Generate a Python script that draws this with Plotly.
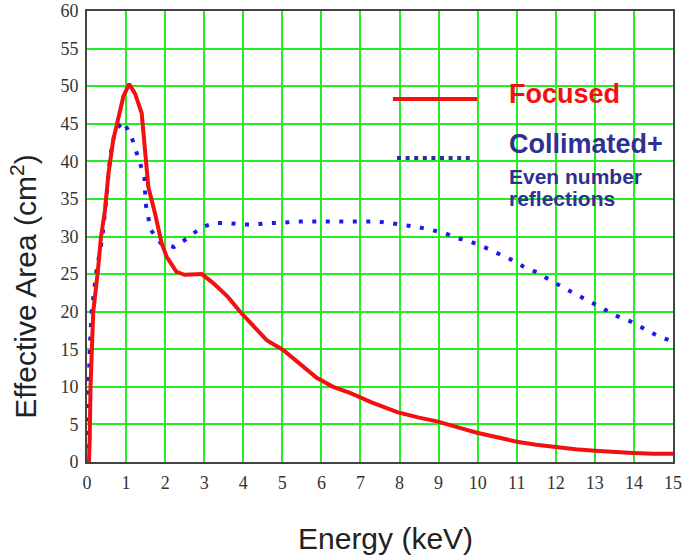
import plotly.graph_objects as go

# Focused (red solid)
focused_e = [0.05, 0.07, 0.09, 0.12, 0.16, 0.27, 0.36, 0.46, 0.55, 0.67, 0.84, 0.93, 1.08, 1.23, 1.40, 1.48, 1.57, 1.74, 1.91, 2.04, 2.29, 2.5, 2.94, 3.23, 3.6, 3.92, 4.3, 4.6, 5.02, 5.5, 5.88, 6.3, 6.73, 7.3, 7.96, 8.5, 8.96, 9.5, 9.98, 10.5, 11.0, 11.5, 11.98, 12.5, 13.0, 13.5, 13.98, 14.5, 15.0]
focused_a = [0.0, 3.0, 10.0, 15.0, 20.0, 25.0, 30.0, 33.5, 38.4, 42.8, 46.4, 48.6, 50.3, 49.0, 46.4, 41.5, 36.6, 33.1, 29.1, 27.3, 25.3, 24.9, 25.0, 23.8, 22.0, 20.0, 17.8, 16.2, 14.9, 12.8, 11.2, 10.0, 9.2, 7.9, 6.6, 5.9, 5.4, 4.6, 3.9, 3.3, 2.7, 2.3, 2.0, 1.7, 1.5, 1.3, 1.2, 1.1, 1.1]

# Collimated + even number reflections (blue dotted)
coll_e = [0.0, 0.02, 0.03, 0.07, 0.12, 0.23, 0.33, 0.39, 0.5, 0.59, 0.72, 0.93, 1.13, 1.25, 1.36, 1.47, 1.5, 1.57, 1.63, 1.89, 2.23, 2.58, 2.92, 3.26, 3.6, 3.94, 4.29, 4.65, 5.0, 5.32, 5.62, 5.98, 6.35, 6.7, 7.05, 7.4, 7.74, 8.08, 8.42, 8.78, 9.13, 9.47, 9.82, 10.16, 10.48, 10.83, 11.17, 11.53, 11.85, 12.19, 12.55, 12.89, 13.23, 13.57, 13.91, 14.26, 14.6, 15.0]
coll_a = [0.0, 5.0, 10.0, 15.0, 20.0, 25.0, 28.0, 29.7, 35.3, 40.6, 44.1, 45.3, 43.4, 41.6, 39.7, 37.9, 34.4, 32.6, 30.9, 29.1, 28.6, 29.8, 31.2, 31.8, 31.8, 31.6, 31.6, 31.8, 31.8, 32.0, 32.0, 32.1, 32.1, 32.1, 32.1, 32.0, 31.8, 31.6, 31.3, 30.9, 30.5, 29.8, 29.3, 28.6, 27.8, 27.0, 26.0, 25.2, 24.2, 23.2, 22.2, 21.3, 20.3, 19.4, 18.7, 17.8, 16.8, 16.0]

x_ticks = list(range(0, 16))
y_ticks = list(range(0, 61, 5))

fig = go.Figure()
fig.add_trace(go.Scatter(x=coll_e, y=coll_a, mode="lines",
                         line=dict(color="#1a1aee", width=4, dash="4px,9.5px"),
                         showlegend=False, hoverinfo="skip"))
fig.add_trace(go.Scatter(x=focused_e, y=focused_a, mode="lines",
                         line=dict(color="#f21010", width=4),
                         showlegend=False, hoverinfo="skip"))

tickfont = dict(family="Liberation Serif", size=18, color="#333333")
fig.update_xaxes(range=[0, 15], tickvals=x_ticks, ticktext=[str(v) for v in x_ticks],
                 showgrid=True, gridcolor="#22ee22", gridwidth=2, automargin=False,
                 zeroline=False, showline=True, linecolor="#444444", linewidth=2, mirror=True,
                 ticks="", tickfont=tickfont, ticklabelstandoff=3)
fig.update_yaxes(range=[0, 60], tickvals=y_ticks, ticktext=[str(v) for v in y_ticks],
                 showgrid=True, gridcolor="#22ee22", gridwidth=2, automargin=False,
                 zeroline=False, showline=True, linecolor="#444444", linewidth=2, mirror=True,
                 ticks="", tickfont=tickfont, ticklabelstandoff=3)

# Axis titles
fig.add_annotation(xref="paper", yref="paper", x=0.509, y=-0.17, xanchor="center", yanchor="middle",
                   text="Energy (keV)", showarrow=False,
                   font=dict(family="Liberation Sans", size=30, color="#222222"))
fig.add_annotation(xref="paper", yref="paper", x=-0.108, y=0.39, xanchor="center", yanchor="middle",
                   text="Effective Area (cm<sup>2</sup>)", showarrow=False, textangle=-90,
                   font=dict(family="Liberation Sans", size=30, color="#222222"))

# Legend (drawn as shapes + annotations)
fig.add_shape(type="line", xref="paper", yref="paper", x0=0.522, x1=0.666, y0=0.805, y1=0.805,
              line=dict(color="#f21010", width=4))
fig.add_shape(type="line", xref="paper", yref="paper", x0=0.529, x1=0.660, y0=0.674, y1=0.674,
              line=dict(color="#2e3192", width=4, dash="4px,4.6px"))
fig.add_annotation(xref="paper", yref="paper", x=0.716, y=0.816, xanchor="left", yanchor="middle",
                   text="<b>Focused</b>", showarrow=False,
                   font=dict(family="Liberation Sans", size=27, color="#f21010"))
fig.add_annotation(xref="paper", yref="paper", x=0.716, y=0.705, xanchor="left", yanchor="middle",
                   text="<b>Collimated+</b>", showarrow=False,
                   font=dict(family="Liberation Sans", size=27, color="#2e3192"))
fig.add_annotation(xref="paper", yref="paper", x=0.716, y=0.632, xanchor="left", yanchor="middle",
                   text="<b>Even number</b>", showarrow=False,
                   font=dict(family="Liberation Sans", size=21, color="#2e3192"))
fig.add_annotation(xref="paper", yref="paper", x=0.716, y=0.585, xanchor="left", yanchor="middle",
                   text="<b>reflections</b>", showarrow=False,
                   font=dict(family="Liberation Sans", size=21, color="#2e3192"))

fig.update_layout(width=691, height=559, margin=dict(l=87, r=18, t=11, b=97),
                  paper_bgcolor="white", plot_bgcolor="white")

fig.write_html("out.html", config={"displayModeBar": False},
               post_script="document.body.style.margin='0';document.body.style.overflow='hidden';")
